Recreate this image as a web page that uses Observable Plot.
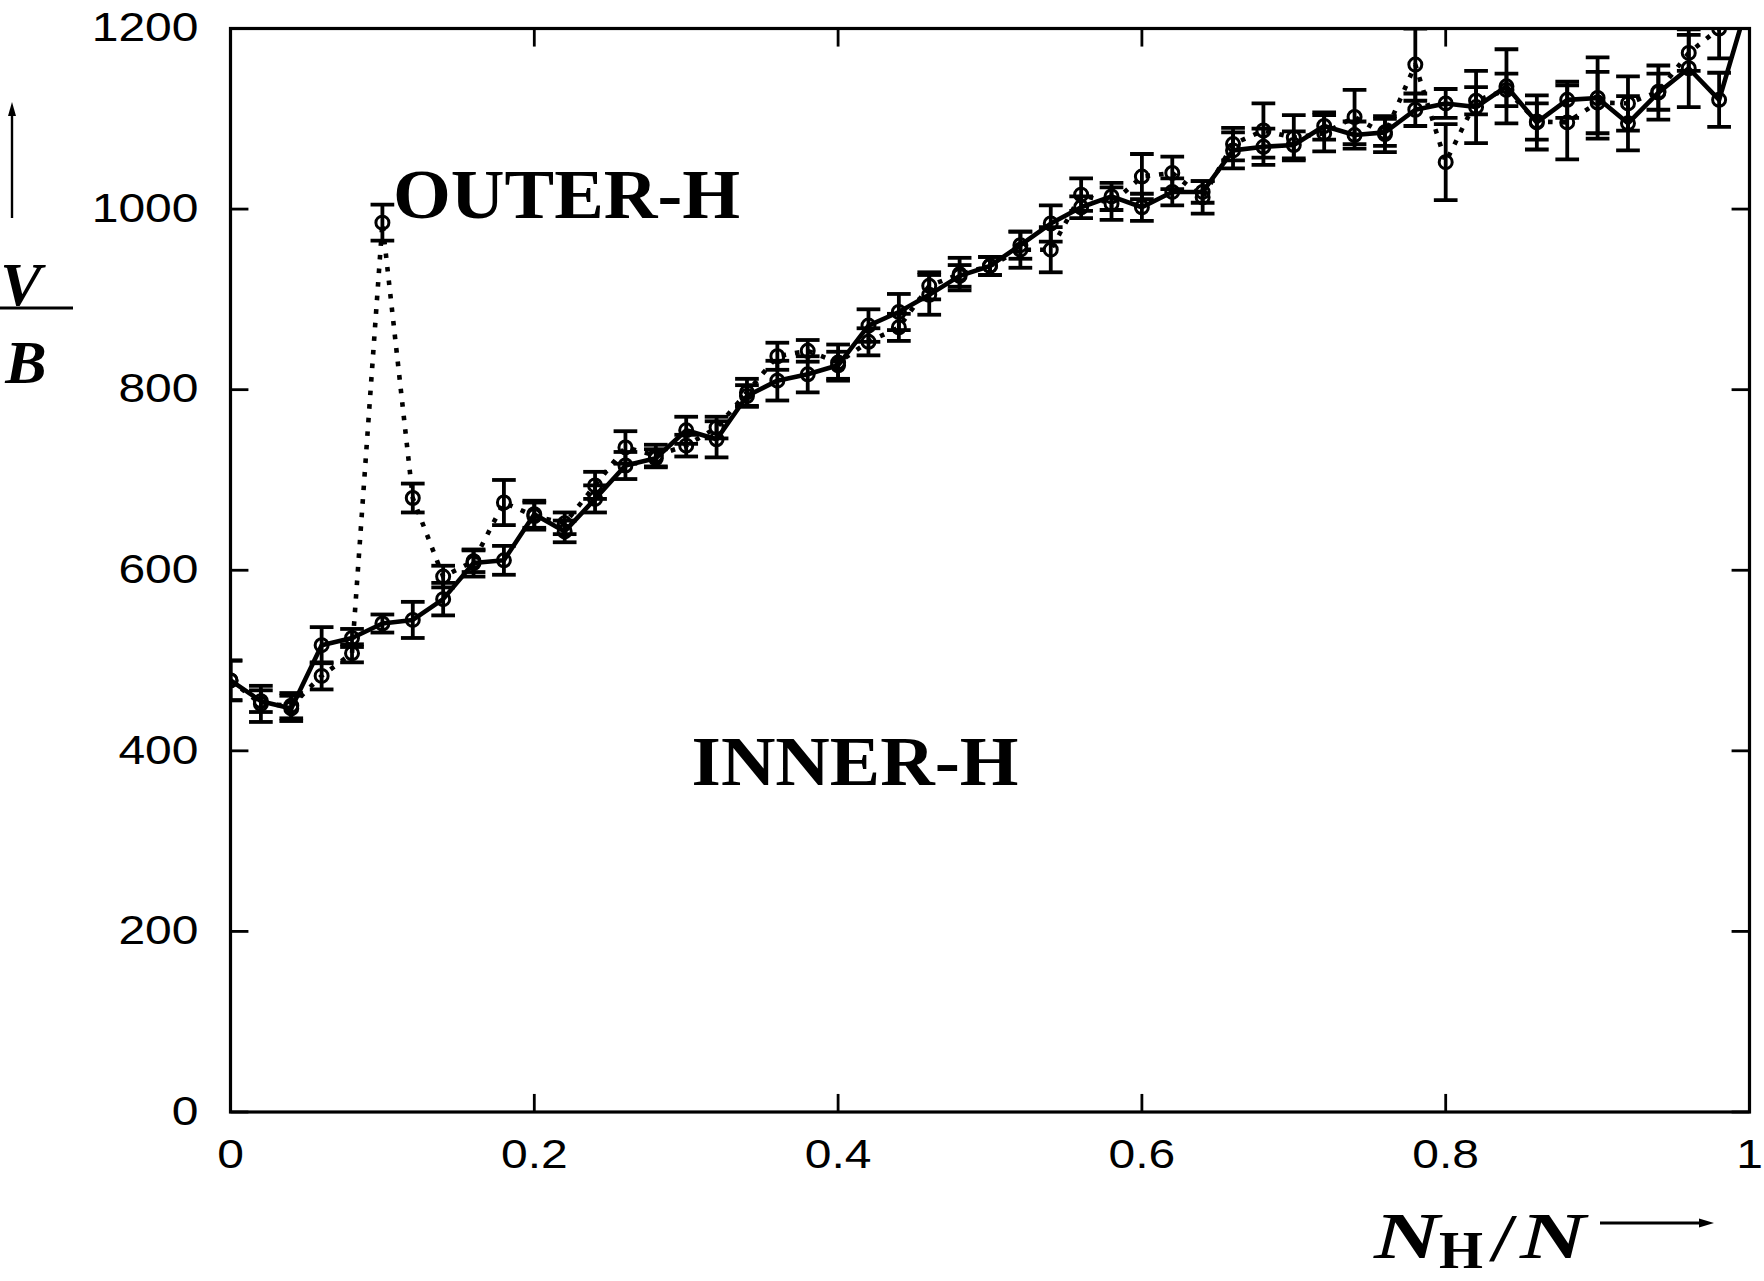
<!DOCTYPE html>
<html>
<head>
<meta charset="utf-8">
<script src="https://cdn.jsdelivr.net/npm/d3@7"></script>
<script src="https://cdn.jsdelivr.net/npm/@observablehq/plot@0.6"></script>
<style>
  html, body { margin: 0; padding: 0; background: #fff; }
  #chart svg { display: block; }
</style>
</head>
<body>
<div id="chart"></div>
<script>
// N_H / N positions
const fractions = [0,0.02,0.04,0.06,0.08,0.10,0.12,0.14,0.16,0.18,0.20,0.22,0.24,0.26,0.28,0.30,0.32,0.34,0.36,0.38,0.40,0.42,0.44,0.46,0.48,0.50,0.52,0.54,0.56,0.58,0.60,0.62,0.64,0.66,0.68,0.70,0.72,0.74,0.76,0.78,0.80,0.82,0.84,0.86,0.88,0.90,0.92,0.94,0.96,0.98,1.00];

// INNER-H (solid line)
const innerV = [478,455,447,517,525,541,545,568,608,611,662,643,679,716,724,755,745,793,810,817,827,871,886,905,926,937,960,984,1002,1014,1002,1019,1019,1065,1069,1071,1092,1082,1085,1110,1117,1113,1136,1096,1121,1123,1095,1129,1156,1121,1235];
const innerErr = [22,12,14,20,10,10,20,18,15,16,15,12,15,15,10,15,20,12,22,20,15,18,20,22,12,10,15,20,12,15,15,15,12,20,20,15,15,15,15,18,16,40,41,30,20,45,30,30,43,30,0];

// OUTER-H (dotted line)
const outerV = [478,452,450,483,508,985,680,593,610,675,660,652,694,736,727,738,758,797,837,843,830,853,869,915,928,937,955,955,1016,1006,1036,1040,1013,1072,1087,1079,1084,1102,1083,1160,1052,1120,1132,1097,1096,1118,1117,1130,1173,1200];
const outerErr = [22,20,14,15,10,20,16,12,12,25,15,12,15,18,12,12,12,15,15,12,20,15,15,15,18,10,20,25,18,18,25,18,18,18,30,25,20,30,20,40,42,15,18,20,41,34,30,20,20,33];

const yTicks = [0,200,400,600,800,1000,1200];
const xTicks = [0,0.2,0.4,0.6,0.8,1];

const labels = [
  {text: "OUTER-H", x: 0.107, y: 990},
  {text: "INNER-H", x: 0.3035, y: 362}
];

const inner = innerV.map((v, i) => ({x: fractions[i], v, e: innerErr[i]}));
const outer = outerV.map((v, i) => ({x: fractions[i], v, e: outerErr[i]}));
const innerBars = inner.filter(d => d.e > 0);

const capHalf = 0.0078;   // half-width of error-bar caps, in x units
const tickLenX = 0.0118;  // inward tick length on y axes, in x units
const tickLenY = 20;      // inward tick length on x axes, in y units

function errorMarks(data) {
  return [
    Plot.ruleX(data, {x: "x", y1: d => d.v - d.e, y2: d => d.v + d.e, stroke: "#000", strokeWidth: 3.8, clip: true}),
    Plot.link(data, {x1: d => d.x - capHalf, x2: d => d.x + capHalf, y1: d => d.v - d.e, y2: d => d.v - d.e, stroke: "#000", strokeWidth: 3.8, clip: true}),
    Plot.link(data, {x1: d => d.x - capHalf, x2: d => d.x + capHalf, y1: d => d.v + d.e, y2: d => d.v + d.e, stroke: "#000", strokeWidth: 3.8, clip: true})
  ];
}

const chart = Plot.plot({
  width: 1764,
  height: 1281,
  marginLeft: 230,
  marginRight: 15,
  marginTop: 28,
  marginBottom: 169.5,
  style: {background: "#fff", fontFamily: "'Liberation Sans', Arial, sans-serif"},
  x: {domain: [0, 1]},
  y: {domain: [0, 1200]},
  marks: [
    // inward ticks on all four sides
    Plot.link(yTicks, {x1: 0, x2: tickLenX, y1: d => d, y2: d => d, stroke: "#000", strokeWidth: 2.8}),
    Plot.link(yTicks, {x1: 1 - tickLenX, x2: 1, y1: d => d, y2: d => d, stroke: "#000", strokeWidth: 2.8}),
    Plot.link(xTicks, {x1: d => d, x2: d => d, y1: 0, y2: tickLenY, stroke: "#000", strokeWidth: 2.8}),
    Plot.link(xTicks, {x1: d => d, x2: d => d, y1: 1200 - tickLenY, y2: 1200, stroke: "#000", strokeWidth: 2.8}),
    Plot.axisY(yTicks, {tickSize: 0, tickPadding: 32, fontSize: 40, label: null, tickFormat: d => String(d)}),
    Plot.axisX(xTicks, {tickSize: 0, tickPadding: 28, fontSize: 40, label: null, tickFormat: d => String(d)}),
    ...errorMarks(outer),
    ...errorMarks(innerBars),
    Plot.line(outer, {x: "x", y: "v", stroke: "#000", strokeWidth: 4.6, strokeDasharray: "4.6,9", strokeLinecap: "butt", clip: true}),
    Plot.line(inner, {x: "x", y: "v", stroke: "#000", strokeWidth: 4.6, clip: true}),
    Plot.dot(outer, {x: "x", y: "v", r: 6.5, stroke: "#000", strokeWidth: 3, fill: "none", clip: true}),
    Plot.dot(inner, {x: "x", y: "v", r: 6.5, stroke: "#000", strokeWidth: 3, fill: "none", clip: true}),
    Plot.text(labels, {x: "x", y: "y", text: "text", textAnchor: "start", lineAnchor: "bottom", fontSize: 70, fontWeight: "bold", fontFamily: "'Liberation Serif', 'Times New Roman', serif", fill: "#000", className: "anno"}),
    Plot.frame({stroke: "#000", strokeWidth: 3.2})
  ]
});

// horizontally stretch the tick labels (the original font is wide)
d3.select(chart).selectAll("g[aria-label='y-axis tick label'] text, g[aria-label='x-axis tick label'] text").each(function() {
  const t = this.getAttribute("transform") || "";
  this.setAttribute("transform", t + " scale(1.2,1)");
});
// widen the annotations to the original's width
d3.select(chart).selectAll(".anno text").each(function() {
  const w = this.textContent === "OUTER-H" ? 347 : 327;
  this.setAttribute("textLength", w);
  this.setAttribute("lengthAdjust", "spacingAndGlyphs");
});

const svg = d3.select(chart);
const serif = "'Liberation Serif', 'Times New Roman', serif";

// y-axis label: arrow, V over B
svg.append("line").attr("x1", 12).attr("x2", 12).attr("y1", 218).attr("y2", 112)
  .attr("stroke", "#000").attr("stroke-width", 2.4);
svg.append("path").attr("d", "M12,102 L8,116 L16,116 Z").attr("fill", "#000");
svg.append("text").attr("x", 21).attr("y", 305).attr("text-anchor", "middle")
  .attr("font-family", serif).attr("font-size", 62).attr("font-style", "italic").attr("font-weight", "bold").text("V");
svg.append("line").attr("x1", 0).attr("x2", 73).attr("y1", 308).attr("y2", 308)
  .attr("stroke", "#000").attr("stroke-width", 3.2);
svg.append("text").attr("x", 26).attr("y", 383).attr("text-anchor", "middle")
  .attr("font-family", serif).attr("font-size", 62).attr("font-style", "italic").attr("font-weight", "bold").text("B");

// x-axis label: N_H / N with arrow (pieces placed to match the original's wide math font)
function piece(x, y, size, style, weight, txt, len) {
  const t = svg.append("text").attr("x", x).attr("y", y).attr("text-anchor", "start")
    .attr("font-family", serif).attr("font-size", size).attr("font-style", style).attr("font-weight", weight).text(txt);
  if (len) t.attr("textLength", len).attr("lengthAdjust", "spacingAndGlyphs");
}
piece(1374, 1258, 66, "italic", "bold", "N", 66);
piece(1439, 1268, 52, "normal", "bold", "H", 44);
piece(1489, 1260, 68, "normal", "normal", "/", 28);
piece(1520, 1258, 66, "italic", "bold", "N", 66);
svg.append("line").attr("x1", 1600).attr("x2", 1702).attr("y1", 1223).attr("y2", 1223)
  .attr("stroke", "#000").attr("stroke-width", 3);
svg.append("path").attr("d", "M1714,1223 L1699,1218.5 L1699,1227.5 Z").attr("fill", "#000");

document.getElementById("chart").appendChild(chart);
</script>
</body>
</html>
